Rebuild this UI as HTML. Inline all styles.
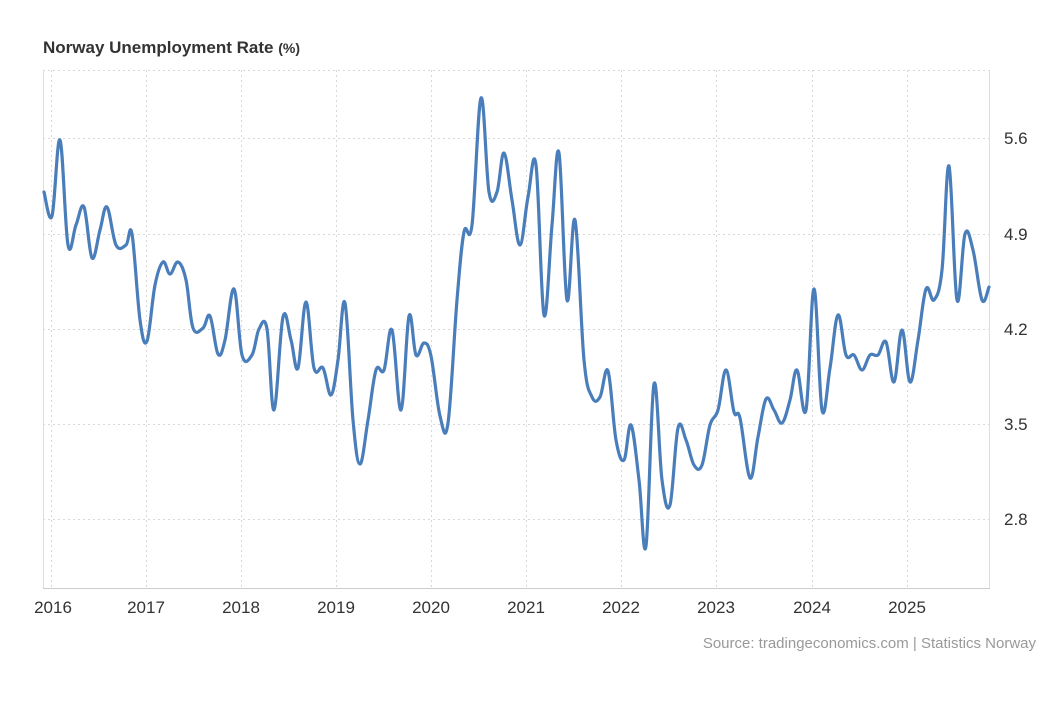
<!DOCTYPE html>
<html><head><meta charset="utf-8"><style>
body{margin:0;background:#fff;width:1054px;height:720px;overflow:hidden;font-family:"Liberation Sans",Arial,sans-serif}
</style></head><body>
<svg id="s" width="1054" height="720" xmlns="http://www.w3.org/2000/svg" font-family="Liberation Sans, Arial, sans-serif">
<text x="43" y="53" font-size="17" font-weight="bold" fill="#333">Norway Unemployment Rate <tspan font-size="14">(%)</tspan></text>
<g stroke="#d8d8d8" stroke-width="1" stroke-dasharray="2,3" fill="none">
<line x1="43" y1="70.5" x2="989" y2="70.5"/>
<line x1="43" y1="138.5" x2="989" y2="138.5"/>
<line x1="43" y1="234.5" x2="989" y2="234.5"/>
<line x1="43" y1="329.5" x2="989" y2="329.5"/>
<line x1="43" y1="424.5" x2="989" y2="424.5"/>
<line x1="43" y1="519.5" x2="989" y2="519.5"/>
<line x1="51.5" y1="70" x2="51.5" y2="588"/>
<line x1="146.5" y1="70" x2="146.5" y2="588"/>
<line x1="241.5" y1="70" x2="241.5" y2="588"/>
<line x1="336.5" y1="70" x2="336.5" y2="588"/>
<line x1="431.5" y1="70" x2="431.5" y2="588"/>
<line x1="526.5" y1="70" x2="526.5" y2="588"/>
<line x1="621.5" y1="70" x2="621.5" y2="588"/>
<line x1="716.5" y1="70" x2="716.5" y2="588"/>
<line x1="812.5" y1="70" x2="812.5" y2="588"/>
<line x1="907.5" y1="70" x2="907.5" y2="588"/>
</g>
<line x1="43.5" y1="70" x2="43.5" y2="588" stroke="#ddd"/>
<line x1="989.5" y1="70" x2="989.5" y2="588" stroke="#ddd"/>
<line x1="43" y1="588.5" x2="990" y2="588.5" stroke="#ccc"/>
<g font-size="17" fill="#333">
<text x="1004" y="144">5.6</text><text x="1004" y="240">4.9</text><text x="1004" y="335">4.2</text><text x="1004" y="430">3.5</text><text x="1004" y="525">2.8</text>
</g>
<g font-size="17" fill="#333" text-anchor="middle">
<text x="53" y="613">2016</text><text x="146" y="613">2017</text><text x="241" y="613">2018</text><text x="336" y="613">2019</text><text x="431" y="613">2020</text><text x="526" y="613">2021</text><text x="621" y="613">2022</text><text x="716" y="613">2023</text><text x="812" y="613">2024</text><text x="907" y="613">2025</text>
</g>
<text x="1036" y="648" font-size="15" fill="#999" text-anchor="end">Source: tradingeconomics.com | Statistics Norway</text>
<path id="ln" fill="none" stroke="#4a7ebb" stroke-width="3.2" stroke-linejoin="round" stroke-linecap="round"/>
</svg>
<script>
var p=[[44,192],[52,216],[60,140],[68,245],[76,225],[84,207],[92,258],[100,230],[107,207],[116,245],[126,245],[132,234],[140,320],[147,341],[155,285],[163,262],[170,274],[178,262],[186,280],[193,328],[203,328],[210,316],[218,354],[225,340],[234,289],[242,355],[252,355],[259,329],[267,329],[274,410],[283,317],[291,340],[298,368],[306,302],[314,368],[323,368],[331,395],[338,360],[345,303],[353,420],[360,464],[368,420],[376,370],[384,370],[392,330],[401,410],[409,316],[416,355],[424,343],[431,356],[440,416],[448,423],[457,300],[464,232],[472,225],[481,98],[489,192],[497,192],[504,153],[512,200],[520,245],[528,197],[536,165],[544,315],[552,225],[559,153],[567,300],[575,220],[584,360],[592,397],[600,397],[608,371],[616,440],[624,460],[631,425],[639,480],[646,546],[654,384],[662,480],[670,505],[678,428],[686,440],[694,465],[702,465],[710,425],[718,410],[726,370],[734,412],[740,418],[750,478],[758,437],[766,399],[774,410],[782,423],[790,400],[797,370],[806,410],[814,289],[822,410],[830,368],[838,315],[846,355],[854,355],[862,370],[870,355],[878,355],[886,342],[894,382],[902,330],[910,382],[918,340],[926,289],[934,300],[942,270],[949,166],[957,300],[965,234],[973,250],[982,300],[989,287]];
var d="M"+p[0][0]+","+p[0][1],t=0.18;
for(var i=0;i<p.length-1;i++){var a=p[i-1]||p[i],b=p[i],c=p[i+1],e=p[i+2]||c;
d+=" C"+(b[0]+(c[0]-a[0])*t).toFixed(1)+","+(b[1]+(c[1]-a[1])*t).toFixed(1)+" "+(c[0]-(e[0]-b[0])*t).toFixed(1)+","+(c[1]-(e[1]-b[1])*t).toFixed(1)+" "+c[0]+","+c[1];}
document.getElementById("ln").setAttribute("d",d);
</script>
</body></html>
